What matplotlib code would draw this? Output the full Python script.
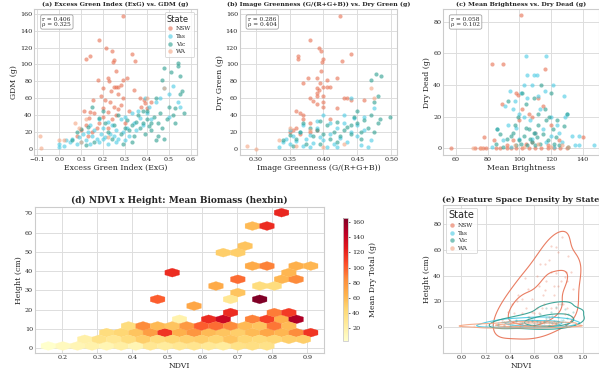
import numpy as np
import matplotlib
matplotlib.use('Agg')
import matplotlib.pyplot as plt
from matplotlib.lines import Line2D
import seaborn as sns

# ---- colours per state
estados = ['NSW', 'Tas', 'Vic', 'WA']
cores = {'NSW': '#E76F51', 'Tas': '#48CAE4', 'Vic': '#2A9D8F', 'WA': '#F4A582'}

# ---- (a) ExG vs GDM
a_nsw_x = [0.29, 0.18, 0.215, 0.24, 0.14, 0.12, 0.25, 0.245, 0.33, 0.345, 0.26, 0.175, 0.22, 0.225, 0.29, 0.31, 0.20, 0.25, 0.26, 0.27,
           0.34, 0.235, 0.27, 0.28, 0.19, 0.21, 0.155, 0.23, 0.25, 0.22, 0.27, 0.26, 0.29, 0.37, 0.385, 0.39, 0.375, 0.115, 0.14, 0.135,
           0.16, 0.18, 0.20, 0.12, 0.10, 0.15, 0.22, 0.30, 0.32, 0.40, 0.08, 0.13, 0.20, 0.24, 0.28, 0.42, 0.17]
a_nsw_y = [158, 129, 120, 116, 110, 107, 105, 103, 113, 104, 92, 82, 84, 80, 81, 84, 72, 73, 73, 73,
           70, 68, 65, 76, 62, 58, 58, 55, 50, 44, 47, 40, 60, 60, 58, 54, 50, 45, 44, 36,
           42, 30, 38, 28, 22, 20, 25, 30, 45, 48, 15, 15, 48, 35, 52, 55, 25]
a_tas_x = [0.0, 0.0, 0.02, 0.03, 0.05, 0.06, 0.08, 0.09, 0.10, 0.11, 0.12, 0.13, 0.14, 0.15, 0.16, 0.17, 0.18, 0.19, 0.20, 0.20,
           0.21, 0.22, 0.23, 0.24, 0.25, 0.26, 0.27, 0.28, 0.29, 0.30, 0.31, 0.32, 0.33, 0.34, 0.35, 0.36, 0.37, 0.38, 0.39, 0.40,
           0.41, 0.42, 0.44, 0.46, 0.48, 0.50, 0.52, 0.54, 0.55, 0.50, 0.18, 0.22, 0.14, 0.26, 0.30]
a_tas_y = [2, 6, 3, 10, 8, 12, 5, 14, 8, 18, 10, 20, 6, 15, 22, 12, 8, 17, 12, 25,
           14, 6, 18, 28, 15, 22, 12, 35, 20, 38, 25, 15, 42, 30, 22, 45, 36, 28, 60, 42,
           50, 35, 55, 60, 72, 38, 75, 56, 50, 65, 35, 32, 28, 8, 10]
a_vic_x = [0.06, 0.08, 0.10, 0.12, 0.13, 0.15, 0.16, 0.18, 0.20, 0.21, 0.22, 0.24, 0.25, 0.27, 0.28, 0.29, 0.30, 0.31, 0.32, 0.33,
           0.34, 0.35, 0.36, 0.37, 0.38, 0.39, 0.40, 0.40, 0.41, 0.42, 0.43, 0.44, 0.45, 0.45, 0.46, 0.47, 0.47, 0.48, 0.49, 0.50,
           0.51, 0.52, 0.53, 0.54, 0.54, 0.55, 0.55, 0.56, 0.57, 0.53, 0.48, 0.44, 0.38, 0.33, 0.42]
a_vic_y = [10, 20, 23, 4, 26, 50, 8, 36, 45, 30, 20, 12, 28, 40, 18, 6, 25, 34, 22, 28,
           15, 32, 40, 25, 30, 18, 45, 35, 27, 22, 38, 60, 30, 15, 42, 25, 82, 96, 35, 50,
           91, 40, 48, 102, 98, 86, 65, 69, 42, 30, 12, 10, 45, 8, 30]
a_wa_x = [-0.09, -0.085, 0.0, 0.02, 0.07, 0.09, 0.12, 0.10, 0.48, 0.40, 0.22]
a_wa_y = [15, 1, 10, 10, 30, 25, 35, 8, 72, 60, 14]

# ---- (b) Greenness vs Dry Green
b_nsw_x = [0.425, 0.38, 0.393, 0.396, 0.44, 0.363, 0.362, 0.40, 0.398, 0.427, 0.397, 0.377, 0.39, 0.405, 0.42, 0.37, 0.39, 0.393,
           0.40, 0.405, 0.39, 0.38, 0.39, 0.40, 0.385, 0.39, 0.40, 0.43, 0.435, 0.44, 0.42, 0.36, 0.365, 0.37, 0.37, 0.355,
           0.36, 0.38, 0.39, 0.41, 0.46, 0.40, 0.41, 0.395, 0.35, 0.365, 0.38]
b_nsw_y = [158, 129, 120, 116, 113, 110, 107, 107, 103, 104, 92, 84, 84, 81, 84, 78, 72, 70,
           73, 73, 66, 60, 62, 63, 57, 53, 50, 60, 60, 58, 48, 45, 42, 40, 35, 22,
           25, 30, 22, 35, 58, 55, 73, 78, 20, 18, 20]
b_tas_x = [0.335, 0.34, 0.345, 0.35, 0.355, 0.36, 0.365, 0.37, 0.375, 0.38, 0.385, 0.39, 0.395, 0.40, 0.405, 0.41, 0.415, 0.42,
           0.425, 0.43, 0.435, 0.44, 0.445, 0.45, 0.455, 0.46, 0.465, 0.47, 0.44, 0.43, 0.37, 0.35, 0.39, 0.41, 0.45, 0.40,
           0.38, 0.42, 0.46, 0.475]
b_tas_y = [2, 8, 12, 5, 15, 9, 20, 3, 12, 16, 7, 24, 14, 10, 2, 18, 6, 25,
           13, 30, 8, 20, 36, 15, 4, 22, 2, 10, 60, 40, 28, 22, 33, 30, 28, 40,
           2, 2, 38, 48]
b_vic_x = [0.34, 0.35, 0.355, 0.36, 0.365, 0.37, 0.375, 0.38, 0.385, 0.39, 0.395, 0.40, 0.405, 0.41, 0.415, 0.42, 0.425, 0.43,
           0.435, 0.44, 0.445, 0.45, 0.45, 0.455, 0.46, 0.465, 0.47, 0.47, 0.475, 0.477, 0.48, 0.48, 0.485, 0.483, 0.498, 0.475,
           0.44, 0.42, 0.395, 0.455]
b_vic_y = [10, 16, 3, 12, 20, 30, 6, 25, 15, 22, 5, 18, 28, 12, 20, 32, 15, 22,
           26, 18, 38, 30, 45, 20, 34, 25, 82, 40, 55, 89, 30, 62, 86, 35, 38, 20,
           28, 8, 33, 12]
b_wa_x = [0.287, 0.30, 0.335, 0.36, 0.38, 0.40, 0.43, 0.47, 0.475, 0.35]
b_wa_y = [3, 0, 10, 3, 22, 2, 5, 72, 60, 25]

# ---- (c) Brightness vs Dry Dead
c_nsw_x = [57, 72, 75, 77, 79, 85, 88, 92, 95, 98, 102, 106, 110, 114, 118, 122, 126, 130, 101, 83, 90, 116,
           78, 84, 98, 99, 100, 102, 106, 108, 110, 112, 115, 120, 125, 140, 104, 92, 96, 108, 118, 89]
c_nsw_y = [0, 0, 0, 0, 0, 0, 0, 0, 0, 0, 0, 0, 0, 0, 0, 0, 0, 0, 84, 53, 53, 50,
           7, 5, 35, 34, 18, 25, 22, 20, 10, 32, 27, 15, 5, 7, 3, 2, 5, 4, 2, 28]
c_tas_x = [104, 117, 109, 111, 105, 103, 108, 121, 94, 116, 101, 105, 97, 112, 128, 91, 96, 100, 107, 113, 120, 124,
           129, 133, 138, 138, 147, 86, 93, 110, 115, 120, 125, 130, 98, 103, 90, 100, 108, 117, 127, 135, 83, 95, 122]
c_tas_y = [58, 58, 46, 46, 46, 40, 40, 40, 36, 36, 35, 32, 30, 33, 33, 27, 25, 22, 18, 25, 20, 15,
           20, 8, 8, 2, 2, 12, 15, 10, 12, 8, 10, 22, 13, 20, 5, 6, 6, 4, 4, 2, 1, 1, 1]
c_vic_x = [100, 101, 103, 105, 106, 107, 108, 109, 110, 111, 112, 113, 115, 116, 118, 119, 120, 121, 123, 125, 128, 130,
           131, 93, 96, 97, 98, 99, 102, 104, 95, 92, 88, 85, 90, 114, 109, 117, 124, 86, 104, 122, 112]
c_vic_y = [5, 3, 8, 2, 12, 6, 4, 10, 2, 7, 15, 3, 9, 25, 5, 20, 35, 12, 7, 2, 14, 22,
           1, 30, 10, 15, 2, 20, 35, 28, 8, 6, 9, 3, 1, 40, 32, 18, 18, 12, 13, 3, 22]
c_wa_x = [71, 76, 97, 103, 112, 120, 127, 131]
c_wa_y = [0, 0, 2, 1, 3, 1, 2, 1]

# ---- (d) hexbin: NDVI, Height, mean dry total
d_ndvi = [0.83, 0.74, 0.785, 0.72, 0.66, 0.70, 0.74, 0.785, 0.87, 0.91, 0.515, 0.85, 0.70, 0.83, 0.87,
          0.64, 0.765, 0.805, 0.70, 0.475, 0.68, 0.765, 0.58, 0.68, 0.805, 0.85,
          0.535, 0.62, 0.66, 0.74, 0.785, 0.83, 0.87,
          0.39, 0.43, 0.475, 0.515, 0.555, 0.60, 0.64, 0.68, 0.72, 0.765, 0.805, 0.85,
          0.33, 0.37, 0.41, 0.45, 0.49, 0.535, 0.58, 0.62, 0.66, 0.70, 0.74, 0.785, 0.83, 0.87, 0.91,
          0.265, 0.305, 0.35, 0.39, 0.43, 0.475, 0.515, 0.555, 0.60, 0.64, 0.68, 0.72, 0.765, 0.805, 0.85, 0.89,
          0.16, 0.20, 0.245, 0.285, 0.33, 0.37, 0.41, 0.45, 0.49, 0.535, 0.58, 0.62, 0.66, 0.70, 0.74, 0.785]
d_altura = [70.3, 63.4, 63.4, 53.0, 49.6, 49.6, 42.7, 42.7, 42.7, 42.7, 39.2, 39.2, 35.7, 35.7, 35.7,
            32.3, 32.3, 32.3, 28.8, 25.4, 25.4, 25.4, 21.9, 18.5, 18.5, 18.5,
            15.0, 15.0, 15.0, 15.0, 15.0, 15.0, 15.0,
            11.6, 11.6, 11.6, 11.6, 11.6, 11.6, 11.6, 11.6, 11.6, 11.6, 11.6, 11.6,
            8.1, 8.1, 8.1, 8.1, 8.1, 8.1, 8.1, 8.1, 8.1, 8.1, 8.1, 8.1, 8.1, 8.1, 8.1,
            4.7, 4.7, 4.7, 4.7, 4.7, 4.7, 4.7, 4.7, 4.7, 4.7, 4.7, 4.7, 4.7, 4.7, 4.7, 4.7,
            1.2, 1.2, 1.2, 1.2, 1.2, 1.2, 1.2, 1.2, 1.2, 1.2, 1.2, 1.2, 1.2, 1.2, 1.2, 1.2]
d_total = [120, 60, 118, 55, 50, 50, 68, 88, 65, 62, 118, 62, 95, 62, 85,
           68, 40, 40, 55, 100, 30, 166, 70, 118, 90, 112,
           18, 118, 138, 88, 110, 65, 150,
           40, 85, 60, 55, 78, 100, 95, 85, 60, 55, 92, 60,
           40, 45, 55, 75, 115, 65, 80, 60, 55, 50, 60, 70, 62, 85, 115,
           20, 35, 30, 40, 50, 40, 45, 48, 50, 45, 55, 45, 42, 45, 50, 50,
           3, 10, 14, 18, 15, 22, 15, 30, 25, 30, 32, 28, 25, 35, 38, 35]

# ---- (e) NDVI vs Height per state
e_nsw_x = [0.83, 0.74, 0.78, 0.72, 0.69, 0.65, 0.74, 0.78, 0.86, 0.90, 0.52, 0.85, 0.70, 0.82, 0.87, 0.64, 0.76, 0.80,
           0.69, 0.47, 0.67, 0.76, 0.58, 0.68, 0.80, 0.84, 0.53, 0.62, 0.66, 0.74, 0.78, 0.87, 0.50, 0.60, 0.64, 0.56,
           0.43, 0.91, 0.45, 0.55, 0.65, 0.72, 0.40, 0.35, 0.60, 0.75, 0.85, 0.48, 0.70, 0.58,
           0.38, 0.42, 0.33, 0.46, 0.88, 0.92, 0.80, 0.55, 0.50, 0.62]
e_nsw_y = [70, 63, 62, 52, 49, 49, 43, 42, 43, 43, 38, 39, 36, 36, 36, 32, 32, 32,
           29, 25, 25, 25, 22, 18, 18, 18, 15, 15, 15, 15, 15, 15, 11, 11, 11, 8,
           11, 8, 5, 4, 4, 8, 3, 2, 1, 3, 10, 1, 6, 12,
           12, 18, 6, 20, 55, 30, 58, 30, 22, 40]
e_tas_x = [0.20, 0.25, 0.30, 0.35, 0.38, 0.42, 0.45, 0.48, 0.50, 0.52, 0.55, 0.58, 0.60, 0.62, 0.65, 0.68, 0.70, 0.72,
           0.75, 0.78, 0.80, 0.82, 0.85, 0.88, 0.40, 0.60, 0.70, 0.55, 0.33, 0.77, 0.62, 0.66, 0.74, 0.50, 0.58]
e_tas_y = [1, 2, 3, 1, 4, 2, 5, 3, 1, 4, 2, 6, 3, 1, 5, 2, 4, 7,
           3, 5, 2, 6, 4, 3, 6, 7, 1, 5, 4, 1, 3, 2, 4, 3, 2]
e_vic_x = [0.30, 0.35, 0.40, 0.45, 0.50, 0.55, 0.60, 0.62, 0.65, 0.68, 0.70, 0.72, 0.74, 0.76, 0.78, 0.80, 0.80, 0.82,
           0.84, 0.85, 0.86, 0.88, 0.90, 0.92, 0.75, 0.70, 0.65, 0.58, 0.83, 0.87, 0.72, 0.78, 0.68, 0.80]
e_vic_y = [2, 4, 1, 6, 3, 8, 2, 5, 10, 4, 7, 2, 12, 5, 16, 8, 3, 18,
           6, 14, 2, 10, 5, 12, 9, 15, 3, 5, 4, 7, 4, 3, 5, 5]
e_wa_x = [0.10, 0.20, 0.28, 0.35, 0.42, 0.48, 0.52, 0.55, 0.60, 0.65, 0.70, 0.75, 0.80, 0.88, 0.50, 0.62, 0.45, 0.58, 0.68, 0.38]
e_wa_y = [1, 2, 0, 2, 1, 3, 2, 1, 3, 2, 1, 2, 3, 1, 4, 0, 2, 2, 3, 1]

sns.set_theme(style='whitegrid')
plt.rcParams['font.family'] = ['DejaVu Serif']
plt.rcParams['axes.edgecolor'] = '#cccccc'
plt.rcParams['grid.color'] = '#dddddd'
plt.rcParams['grid.linewidth'] = 0.7
plt.rcParams['axes.linewidth'] = 0.8

W, H = 599, 379
fig = plt.figure(figsize=(W / 100, H / 100), dpi=100)


def ret(l, t, r, b):
    return [l / W, 1 - b / H, (r - l) / W, (b - t) / H]


def estiloEixo(ax, titulo, xl, yl, tam_titulo=4.5):
    ax.set_title(titulo, fontsize=tam_titulo, fontweight='bold', pad=2.5)
    ax.set_xlabel(xl, fontsize=5.6, labelpad=1.5)
    ax.set_ylabel(yl, fontsize=5.6, labelpad=1.5)
    ax.tick_params(labelsize=4.6, pad=1.5, length=0)
    for s in ax.spines.values():
        s.set_color('#cccccc')
        s.set_linewidth(0.8)


def caixaStats(ax, texto):
    ax.text(0.05, 0.95, texto, transform=ax.transAxes, fontsize=4.2, va='top', ha='left',
            bbox=dict(boxstyle='round,pad=0.3', facecolor='white', edgecolor='#999999', linewidth=0.6, alpha=0.9))


def legendaEstado(ax, loc, tam_titulo=6):
    handles = [Line2D([], [], marker='o', linestyle='', color=cores[e], alpha=0.6, markersize=3.2,
                      markeredgewidth=0) for e in estados]
    leg = ax.legend(handles, estados, title='State', loc=loc, fontsize=4.2, frameon=True,
                    title_fontproperties={'family': 'DejaVu Sans', 'size': tam_titulo},
                    handletextpad=0.4, labelspacing=0.45, borderpad=0.4, handlelength=1.2)
    leg.get_frame().set_edgecolor('#cccccc')
    leg.get_frame().set_linewidth(0.6)
    leg._legend_box.align = 'left'


def dispersao(ax, dados):
    for e in estados:
        x, y = dados[e]
        ax.scatter(x, y, s=9, color=cores[e], alpha=0.6, linewidths=0, zorder=3)


# (a)
ax_a = fig.add_axes(ret(34.3, 9.3, 196.7, 155))
dispersao(ax_a, {'NSW': (a_nsw_x, a_nsw_y), 'Tas': (a_tas_x, a_tas_y), 'Vic': (a_vic_x, a_vic_y), 'WA': (a_wa_x, a_wa_y)})
ax_a.set_xlim(-0.114, 0.627)
ax_a.set_ylim(-7.5, 165.5)
ax_a.set_yticks(range(0, 161, 20))
estiloEixo(ax_a, '(a) Excess Green Index (ExG) vs. GDM (g)', 'Excess Green Index (ExG)', 'GDM (g)')
caixaStats(ax_a, 'r = 0.406\nρ = 0.325')
legendaEstado(ax_a, 'upper right')

# (b)
ax_b = fig.add_axes(ret(240, 9.3, 396.7, 155))
dispersao(ax_b, {'NSW': (b_nsw_x, b_nsw_y), 'Tas': (b_tas_x, b_tas_y), 'Vic': (b_vic_x, b_vic_y), 'WA': (b_wa_x, b_wa_y)})
ax_b.set_xlim(0.277, 0.508)
ax_b.set_ylim(-7.5, 165.5)
ax_b.set_yticks(range(0, 161, 20))
estiloEixo(ax_b, '(b) Image Greenness (G/(R+G+B)) vs. Dry Green (g)', 'Image Greenness (G/(R+G+B))', 'Dry Green (g)')
caixaStats(ax_b, 'r = 0.286\nρ = 0.404')

# (c)
ax_c = fig.add_axes(ret(443.3, 9.3, 598.5, 155))
dispersao(ax_c, {'NSW': (c_nsw_x, c_nsw_y), 'Tas': (c_tas_x, c_tas_y), 'Vic': (c_vic_x, c_vic_y), 'WA': (c_wa_x, c_wa_y)})
ax_c.set_xlim(52, 150)
ax_c.set_ylim(-4.2, 87.8)
estiloEixo(ax_c, '(c) Mean Brightness vs. Dry Dead (g)', 'Mean Brightness', 'Dry Dead (g)')
caixaStats(ax_c, 'r = 0.058\nρ = 0.102')

# (d)
ax_d = fig.add_axes(ret(35, 206.7, 324, 353.3))
hb = ax_d.hexbin(d_ndvi, d_altura, C=d_total, reduce_C_function=np.mean, gridsize=18,
                 extent=(0.16, 0.91, 1.2, 70.3), cmap='YlOrRd', linewidths=0.2, edgecolors='face', zorder=2)
ax_d.set_xlim(0.122, 0.948)
ax_d.set_ylim(-2.6, 73.4)
estiloEixo(ax_d, '(d) NDVI x Height: Mean Biomass (hexbin)', 'NDVI', 'Height (cm)', tam_titulo=6.5)
cax = fig.add_axes(ret(343, 217.7, 348, 341))
cb = fig.colorbar(hb, cax=cax)
cb.set_ticks(range(20, 161, 20))
cb.ax.tick_params(labelsize=4.6, pad=1.5, length=1.5, width=0.5)
cb.set_label('Mean Dry Total (g)', fontsize=5.6, labelpad=3)
cb.outline.set_edgecolor('#cccccc')
cb.outline.set_linewidth(0.6)

# (e)
ax_e = fig.add_axes(ret(443.3, 205, 598.5, 352.7))
dados_e = {'NSW': (e_nsw_x, e_nsw_y), 'Tas': (e_tas_x, e_tas_y), 'Vic': (e_vic_x, e_vic_y), 'WA': (e_wa_x, e_wa_y)}
for e in estados:
    x, y = dados_e[e]
    ax_e.scatter(x, y, s=2.5, color=cores[e], alpha=0.3, linewidths=0, zorder=3)
for e in estados:
    x, y = dados_e[e]
    sns.kdeplot(x=x, y=y, levels=3, thresh=0.1, color=cores[e], linewidths=0.8, alpha=0.9, ax=ax_e)
ax_e.set_xlim(-0.15, 1.13)
ax_e.set_ylim(-19.7, 94.7)
ax_e.set_yticks([0, 20, 40, 60, 80])
ax_e.set_xticks([0.0, 0.2, 0.4, 0.6, 0.8, 1.0])
estiloEixo(ax_e, '(e) Feature Space Density by State', 'NDVI', 'Height (cm)', tam_titulo=5.9)
legendaEstado(ax_e, 'upper left', tam_titulo=7)

fig.savefig('out.png', dpi=100)
plt.close()
